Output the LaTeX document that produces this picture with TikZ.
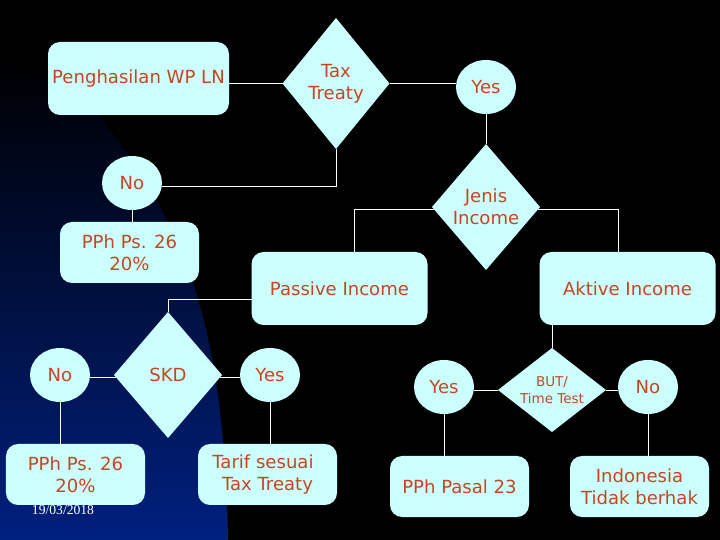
\documentclass[tikz,border=0pt]{standalone}
\usepackage{fontspec}
\setmainfont{DejaVu Sans}
\newfontfamily\datefont{Liberation Serif}
\usetikzlibrary{shapes.geometric}
\definecolor{boxfill}{HTML}{CCFFFF}
\definecolor{boxtext}{HTML}{C8451F}
\definecolor{blobblue}{HTML}{00207F}
\begin{document}
\begin{tikzpicture}[
    every node/.style={fill=boxfill,text=boxtext,align=center,inner sep=0pt,outer sep=0pt,font=\fontsize{12.85}{15.6}\selectfont},
    bigbox/.style={rectangle,rounded corners=0.3cm,minimum width=4.4cm,minimum height=1.825cm},
    smallbox/.style={rectangle,rounded corners=0.3cm,minimum width=3.475cm,minimum height=1.525cm},
    answer/.style={ellipse,minimum width=1.5cm,minimum height=1.35cm},
    choice/.style={diamond,inner sep=-6mm,minimum width=2.7cm,minimum height=3.15cm},
    link/.style={draw=white,line width=0.7pt}
]
    \fill[black] (0,0) rectangle (18,13.5);
    \shade[top color=black,bottom color=blobblue] (0,0) -- (5.7,0)
        .. controls (5.65,3) and (5.3,5.8) .. (4.2,7.95)
        .. controls (3.6,9.2) and (3,9.9) .. (2.5,10.6)
        .. controls (1.8,11.2) and (0.8,11.9) .. (0,12) -- cycle;
    % top row
    \node[bigbox,minimum width=4.525cm] (PengWP) at (3.4625,11.5375) {Penghasilan WP LN};
    \node[choice,minimum width=2.675cm,minimum height=3.275cm] (TaxT) at (8.4,11.4125) {Tax\\Treaty};
    \node[answer] (TaxYes) at (12.15,11.325) {Yes};
    \node[answer] (TaxNo) at (3.3,8.925) {No};
    \node[choice] (Jenis) at (12.15,8.325) {Jenis\\Income};
    \node[smallbox] (PphA) at (3.2375,7.1875) {PPh Ps. 26\\20\%};
    % income boxes
    \node[bigbox] (Passive) at (8.4875,6.2875) {Passive Income};
    \node[bigbox] (Aktive) at (15.6875,6.2875) {Aktive Income};
    % passive side
    \node[choice] (Skd) at (4.2,4.125) {SKD};
    \node[answer] (SkdNo) at (1.5,4.125) {No};
    \node[answer] (SkdYes) at (6.75,4.125) {Yes};
    \node[smallbox] (PphB) at (1.8875,1.6375) {PPh Ps. 26\\20\%};
    \node[smallbox] (Tarif) at (6.6875,1.6375) {Tarif sesuai\hspace*{0.5em}\\Tax Treaty};
    % active side
    \node[choice,minimum height=2.1cm,font=\fontsize{9.6}{12}\selectfont] (Butt) at (13.8,3.75) {BUT/\\Time Test};
    \node[answer] (ButYes) at (11.1,3.825) {Yes};
    \node[answer] (ButNo) at (16.2,3.825) {No};
    \node[smallbox] (Pasal) at (11.4875,1.3375) {PPh Pasal 23};
    \node[smallbox] (Indo) at (15.9875,1.3375) {Indonesia\\Tidak berhak};
    \node[fill=none,text=white,font=\datefont\fontsize{9.7}{11}\selectfont] (Tanggal) at (1.575,0.75) {19/03/2018};
    % connectors
    \draw[link] (PengWP.east |- TaxT.west) -- (TaxT.west);
    \draw[link] (TaxT.east) -- (TaxT.east -| TaxYes.west);
    \draw[link] (TaxT.south) |- (TaxNo.-6);
    \draw[link] (TaxNo.south) -- (TaxNo.south |- PphA.north);
    \draw[link] (TaxYes.south) -- (Jenis.north);
    \draw[link] (Jenis.183.4) -| ([xshift=0.3625cm]Passive.north);
    \draw[link] (Jenis.-3.4) -| ([xshift=-0.2375cm]Aktive.north);
    \draw[link] (Passive.187.8) -| (Skd.north);
    \draw[link] (Aktive.south -| Butt.north) -- (Butt.north);
    \draw[link] (SkdNo.east |- Skd.183.4) -- (Skd.183.4);
    \draw[link] (Skd.-3.4) -- (Skd.-3.4 -| SkdYes.west);
    \draw[link] (SkdNo.south) -- (SkdNo.south |- PphB.north);
    \draw[link] (SkdYes.south) -- (SkdYes.south |- Tarif.north);
    \draw[link] (ButYes.east |- Butt.west) -- (Butt.west);
    \draw[link] (Butt.east) -- (Butt.east -| ButNo.west);
    \draw[link] (ButYes.south) -- (ButYes.south |- Pasal.north);
    \draw[link] (ButNo.south) -- (ButNo.south |- Indo.north);
\end{tikzpicture}
\end{document}
